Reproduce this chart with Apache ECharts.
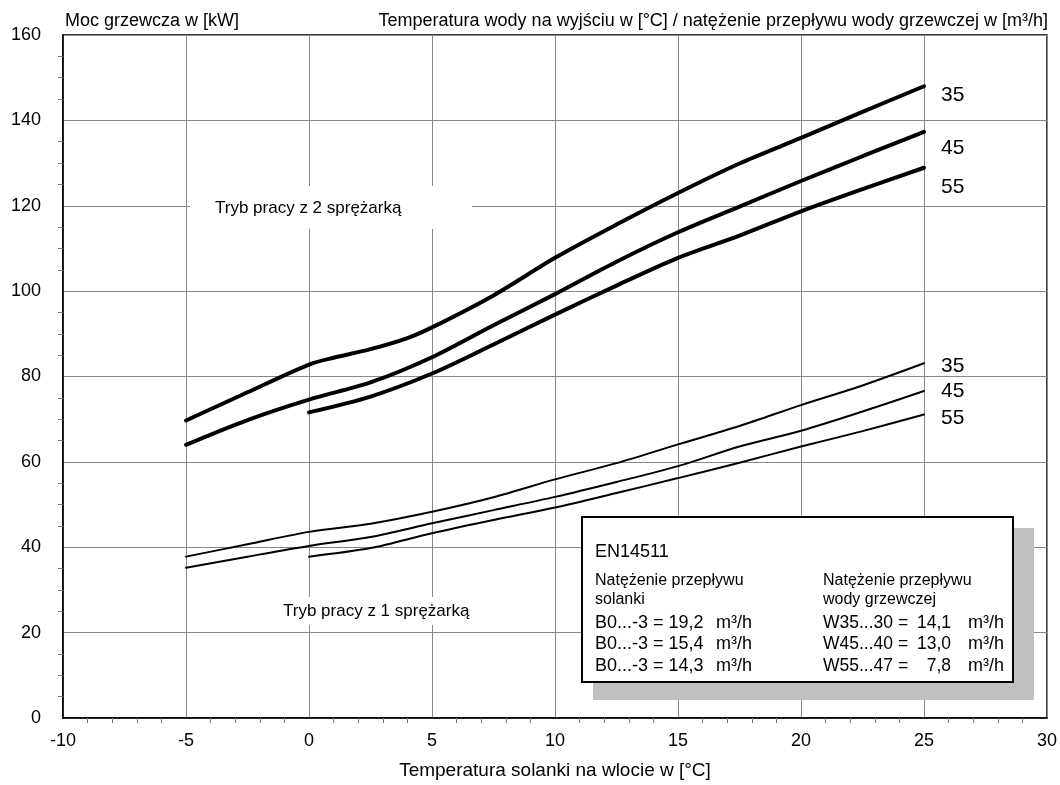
<!DOCTYPE html>
<html>
<head>
<meta charset="utf-8">
<style>
  html, body { margin: 0; padding: 0; background: #fff; }
  #main { width: 1060px; height: 785px; }
</style>
<script src="https://cdn.jsdelivr.net/npm/echarts@6/dist/echarts.min.js"></script>
</head>
<body>
<div id="main"></div>
<script>
// temperatura solanki (oś X)
var tempAll = [-5, -2.5, 0, 1, 2.5, 4, 5, 7.5, 10, 12.5, 15, 17.5, 20, 22.5, 25];
var tempFrom0 = [0, 2.5, 5, 7.5, 10, 12.5, 15, 17.5, 20, 22.5, 25];
var tempStd = [-5, -2.5, 0, 2.5, 5, 7.5, 10, 12.5, 15, 17.5, 20, 22.5, 25];

// 2 sprężarki (grube linie)
var dwa35 = [69.7, 76.3, 82.8, 84.4, 86.4, 89.0, 91.5, 99.0, 107.8, 115.6, 123.0, 129.9, 135.9, 142.0, 148.0];
var dwa45 = [64.0, 69.8, 74.6, 78.6, 84.5, 92.0, 99.3, 106.9, 113.8, 119.8, 125.8, 131.6, 137.3];
var dwa55 = [71.6, 75.3, 80.7, 87.5, 94.5, 101.3, 107.8, 113.0, 118.7, 123.9, 128.9];

// 1 sprężarka (cienkie linie)
var jeden35 = [37.8, 40.7, 43.6, 45.5, 48.3, 51.7, 55.9, 59.7, 64.1, 68.4, 73.3, 77.9, 83.1];
var jeden45 = [35.2, 37.8, 40.3, 42.4, 45.6, 48.7, 51.8, 55.3, 59.0, 63.6, 67.3, 71.8, 76.6];
var jeden55 = [37.8, 39.8, 43.3, 46.4, 49.3, 52.7, 56.2, 59.8, 63.6, 67.2, 71.1];

// tabelka EN14511
var solankaRows = ["B0...-3 = 19,2", "B0...-3 = 15,4", "B0...-3 = 14,3"];
var wodaNames = ["W35...30 =", "W45...40 =", "W55...47 ="];
var wodaValues = ["14,1", "13,0", "7,8"];

var FONT = "Liberation Sans, Arial, sans-serif";

function pairs(xs, ys) {
  return xs.map(function (x, i) { return [x, ys[i]]; });
}

function curve(name, xs, ys, width, off) {
  return {
    name: name,
    type: "line",
    data: pairs(xs, ys),
    smooth: 0.3,
    symbol: "none",
    lineStyle: { color: "#000", width: width, cap: "round" },
    endLabel: {
      show: true,
      formatter: name,
      color: "#000",
      fontSize: 21,
      fontFamily: FONT,
      distance: 17,
      offset: off
    },
    z: 3
  };
}

var chartDom = document.getElementById("main");
var myChart = echarts.init(chartDom);
var option;

var graphics = [
  // nagłówki
  { type: "text", left: 65, top: 12, style: { text: "Moc grzewcza w [kW]", font: "18px " + FONT, fill: "#000" } },
  { type: "text", right: 12, top: 12, style: { text: "Temperatura wody na wyjściu w [°C] / natężenie przepływu wody grzewczej w [m³/h]", font: "18px " + FONT, fill: "#000" } },
  // opisy trybu pracy
  { type: "rect", shape: { x: 190, y: 186, width: 282, height: 43 }, style: { fill: "#fff" }, z: 5 },
  { type: "text", x: 215, y: 208, style: { text: "Tryb pracy z 2 sprężarką", font: "17px " + FONT, fill: "#000", textVerticalAlign: "middle" }, z: 6 },
  { type: "rect", shape: { x: 272, y: 597, width: 208, height: 28 }, style: { fill: "#fff" }, z: 5 },
  { type: "text", x: 283, y: 611, style: { text: "Tryb pracy z 1 sprężarką", font: "17px " + FONT, fill: "#000", textVerticalAlign: "middle" }, z: 6 },
  // tabelka
  { type: "rect", shape: { x: 593, y: 528, width: 441, height: 172 }, style: { fill: "#c0c0c0" }, z: 5 },
  { type: "rect", shape: { x: 582, y: 517, width: 431, height: 165 }, style: { fill: "#fff", stroke: "#000", lineWidth: 2 }, z: 6 },
  { type: "text", x: 595, y: 552, style: { text: "EN14511", font: "18px " + FONT, fill: "#000", textVerticalAlign: "middle" }, z: 7 },
  { type: "text", x: 595, y: 571, style: { text: "Natężenie przepływu\nsolanki", font: "16px " + FONT, lineHeight: 19, fill: "#000" }, z: 7 },
  { type: "text", x: 823, y: 571, style: { text: "Natężenie przepływu\nwody grzewczej", font: "16px " + FONT, lineHeight: 19, fill: "#000" }, z: 7 }
];

solankaRows.forEach(function (t, i) {
  var y = 623 + i * 21.5;
  graphics.push({ type: "text", x: 595, y: y, style: { text: t, font: "18px " + FONT, fill: "#000", textVerticalAlign: "middle" }, z: 7 });
  graphics.push({ type: "text", x: 716, y: y, style: { text: "m³/h", font: "18px " + FONT, fill: "#000", textVerticalAlign: "middle" }, z: 7 });
});
wodaNames.forEach(function (t, i) {
  var y = 623 + i * 21.5;
  graphics.push({ type: "text", x: 823, y: y, style: { text: t, font: "17.5px " + FONT, fill: "#000", textVerticalAlign: "middle" }, z: 7 });
  graphics.push({ type: "text", x: 951, y: y, style: { text: wodaValues[i], font: "17.5px " + FONT, fill: "#000", textAlign: "right", textVerticalAlign: "middle" }, z: 7 });
  graphics.push({ type: "text", x: 968, y: y, style: { text: "m³/h", font: "18px " + FONT, fill: "#000", textVerticalAlign: "middle" }, z: 7 });
});

option = {
  animation: false,
  backgroundColor: "#fff",
  textStyle: { fontFamily: FONT },
  grid: {
    left: 63,
    right: 13,
    top: 35,
    bottom: 62,
    show: true,
    borderColor: "#000",
    borderWidth: 1.5
  },
  xAxis: {
    type: "value",
    min: -10,
    max: 30,
    interval: 5,
    name: "Temperatura solanki na wlocie w [°C]",
    nameLocation: "middle",
    nameGap: 43,
    nameTextStyle: { color: "#000", fontSize: 19, fontFamily: FONT },
    axisLine: { onZero: false, lineStyle: { color: "#000", width: 1.5 } },
    axisTick: { show: false },
    minorTick: { show: true, splitNumber: 5, length: 5, lineStyle: { color: "#777" } },
    axisLabel: { color: "#000", fontSize: 18, fontFamily: FONT, margin: 14 },
    splitLine: { show: true, lineStyle: { color: "#888", width: 1 } }
  },
  yAxis: {
    type: "value",
    min: 0,
    max: 160,
    interval: 20,
    axisLine: { show: true, onZero: false, lineStyle: { color: "#000", width: 1.5 } },
    axisTick: { show: false },
    minorTick: { show: true, splitNumber: 4, length: 5, lineStyle: { color: "#777" } },
    axisLabel: { color: "#000", fontSize: 18, fontFamily: FONT, margin: 22 },
    splitLine: { show: true, lineStyle: { color: "#888", width: 1 } }
  },
  graphic: graphics,
  series: [
    curve("35", tempAll, dwa35, 4, [0, 9]),
    curve("45", tempStd, dwa45, 4, [0, 16]),
    curve("55", tempFrom0, dwa55, 4, [0, 19]),
    curve("35", tempStd, jeden35, 2, [0, 3]),
    curve("45", tempStd, jeden45, 2, [0, 0]),
    curve("55", tempFrom0, jeden55, 2, [0, 4])
  ]
};

option && myChart.setOption(option);
</script>
</body>
</html>
